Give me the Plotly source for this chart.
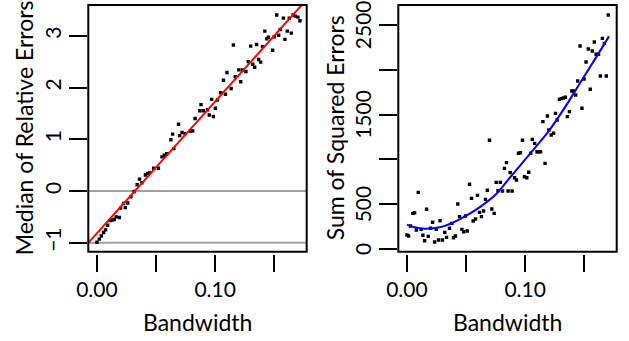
import plotly.graph_objects as go

# ---------------- data ----------------
left_bw = [0.000,0.002,0.0037,0.0056,0.0073,0.009,0.011,0.0127,0.0146,0.0163,0.019,0.020,0.0225,0.024,0.026,0.0287,0.0315,0.034,0.036,0.038,0.041,0.043,0.0445,0.048,0.052,0.055,0.057,0.059,0.0625,0.064,0.065,0.069,0.070,0.072,0.0746,0.079,0.081,0.083,0.087,0.088,0.090,0.0935,0.095,0.097,0.0985,0.1002,0.102,0.1047,0.107,0.1087,0.110,0.1135,0.1154,0.117,0.120,0.1216,0.123,0.126,0.128,0.130,0.1318,0.1334,0.135,0.1368,0.1385,0.140,0.142,0.1436,0.145,0.1486,0.150,0.152,0.1537,0.155,0.1577,0.159,0.161,0.1627,0.1644,0.166,0.1678,0.170,0.1717]
left_median = [-0.99,-0.93,-0.87,-0.80,-0.75,-0.66,-0.57,-0.56,-0.55,-0.50,-0.51,-0.33,-0.24,-0.32,-0.23,-0.11,-0.01,0.12,0.23,0.16,0.31,0.34,0.35,0.44,0.44,0.66,0.69,0.72,0.99,1.10,0.82,1.29,1.07,1.13,1.11,1.16,1.16,1.40,1.55,1.67,1.55,1.57,1.47,1.77,1.44,1.60,1.76,1.90,2.14,1.87,2.29,1.98,2.82,2.21,2.34,2.11,2.34,2.31,2.50,2.80,2.45,2.39,2.83,2.54,2.49,2.79,3.09,2.94,2.97,2.72,2.98,3.40,3.01,3.12,3.34,2.93,3.09,3.34,3.05,3.40,3.38,3.36,3.29]
fit_intercept = -0.815
fit_slope = 25.45
ref_levels = [0, -1]

right_bw = [0.0,0.0014,0.003,0.005,0.0065,0.008,0.0096,0.012,0.0135,0.015,
            0.0166,0.018,0.020,0.0217,0.0234,0.0248,0.0267,0.028,0.030,0.032,
            0.0335,0.036,0.038,0.0394,0.041,0.043,0.0445,0.0465,0.048,0.0495,
            0.051,0.053,0.0546,0.056,0.058,0.0597,0.0614,0.063,0.0648,0.0664,
            0.068,0.0698,0.0718,0.0738,0.0755,0.077,0.079,0.0808,0.0825,0.0842,
            0.0856,0.0873,0.089,0.091,0.0926,0.0943,0.096,0.0977,0.0994,0.1014,
            0.103,0.1047,0.106,0.108,0.110,0.1115,0.113,0.115,0.1168,0.1188,
            0.120,0.122,0.124,0.1256,0.127,0.129,0.1306,0.1323,0.134,0.1357,
            0.1374,0.1394,0.141,0.1427,0.1444,0.1464,0.148,0.1498,0.1515,0.1534,
            0.155,0.1568,0.1585,0.160,0.162,0.1636,0.1653,0.167,0.1686,0.1703]
right_sse = [156,145,257,398,405,212,632,219,153,93,
             443,141,231,298,78,219,100,316,100,186,
             130,231,286,126,145,502,361,219,193,368,
             201,722,565,312,335,599,409,361,424,554,
             655,1213,446,398,744,651,744,647,900,964,
             647,852,647,796,770,1068,1075,1213,807,796,
             856,1068,1224,1179,1086,1086,1086,1421,956,1484,
             1328,1272,1291,1514,1440,1670,1678,1685,1693,1477,
             1533,1763,1763,1719,1875,2266,1570,1897,2087,2232,
             1782,2210,2310,2173,2173,1931,2351,2295,1931,2612]
smooth_bw = [0.0, 0.0065, 0.015, 0.0276, 0.0389, 0.0501, 0.0614, 0.0755, 0.0867, 0.107, 0.121, 0.1351, 0.1464, 0.1605, 0.1709]
smooth_sse = [272, 242, 227, 242, 294, 372, 465, 614, 790, 1109, 1336, 1611, 1853, 2150, 2373]

x_ticks = [0.00, 0.05, 0.10, 0.15]
x_ticktext = ["0.00", "", "0.10", ""]
left_yticks = [-1, 0, 1, 2, 3]
left_yticktext = ["\u22121", "0", "1", "2", "3"]
right_yticks = [0, 500, 1000, 1500, 2000, 2500]
right_yticktext = ["0", "500", "", "1500", "", "2500"]

x_range = [-0.0073, 0.1774]
left_yrange = [-1.172, 3.594]
right_yrange = [-30, 2723]

# ---------------- figure ----------------
W, H = 629, 341
FONT = "Lato"
fs = 21
fs_title = 23

fig = go.Figure()

fig.add_trace(go.Scatter(x=left_bw, y=left_median, mode="markers",
                         marker=dict(symbol="square", size=3.4, color="black", line=dict(width=0)),
                         xaxis="x", yaxis="y", showlegend=False))
line_x = [x_range[0], x_range[1]]
line_y = [fit_intercept + fit_slope * v for v in line_x]
fig.add_trace(go.Scatter(x=line_x, y=line_y, mode="lines",
                         line=dict(color="#FF0000", width=2),
                         xaxis="x", yaxis="y", showlegend=False))

fig.add_trace(go.Scatter(x=right_bw, y=right_sse, mode="markers",
                         marker=dict(symbol="square", size=3.4, color="black", line=dict(width=0)),
                         xaxis="x2", yaxis="y2", showlegend=False))
fig.add_trace(go.Scatter(x=smooth_bw, y=smooth_sse, mode="lines",
                         line=dict(color="#0000FF", width=2, shape="spline", smoothing=1.0),
                         xaxis="x2", yaxis="y2", showlegend=False))

ydom = [1 - 251.7 / H, 1 - 5 / H]
xdom1 = [88.3 / W, 306.7 / W]
xdom2 = [398.3 / W, 616.7 / W]
xpos = 1 - 253.5 / H

tickfont = dict(family=FONT, size=fs, color="black")
common_x = dict(range=x_range, tickvals=x_ticks, ticktext=x_ticktext, ticks="outside",
                ticklen=17, tickwidth=1.6, tickcolor="black", showgrid=False, zeroline=False,
                showline=False, tickfont=tickfont, anchor="free", position=xpos,
                automargin=False, ticklabeloverflow="allow")
common_y = dict(ticks="outside", ticklen=18, tickwidth=1.6, tickcolor="black", showgrid=False,
                zeroline=False, showline=False, tickfont=tickfont, tickangle=-90,
                automargin=False, ticklabeloverflow="allow")

fig.update_layout(
    template="none",
    width=W, height=H, margin=dict(l=0, r=0, t=0, b=0, pad=0),
    paper_bgcolor="white", plot_bgcolor="white",
    font=dict(family=FONT, size=fs, color="black"),
    xaxis=dict(domain=xdom1, **common_x),
    xaxis2=dict(domain=xdom2, **common_x),
    yaxis=dict(domain=ydom, range=left_yrange, tickvals=left_yticks, ticktext=left_yticktext,
               anchor="x", **common_y),
    yaxis2=dict(domain=ydom, range=right_yrange, tickvals=right_yticks, ticktext=right_yticktext,
                anchor="x2", ticklabelshift=3, **common_y),
)

for lv in ref_levels:
    fig.add_shape(type="line", xref="x domain", yref="y", x0=0, x1=1, y0=lv, y1=lv,
                  line=dict(color="#A0A0A0", width=2), layer="below")

for xr, yr in [("x domain", "y domain"), ("x2 domain", "y2 domain")]:
    fig.add_shape(type="rect", xref=xr, yref=yr, x0=0, x1=1, y0=0, y1=1,
                  line=dict(color="black", width=2), fillcolor="rgba(0,0,0,0)", layer="above")

cx1 = (xdom1[0] + xdom1[1]) / 2
cx2 = (xdom2[0] + xdom2[1]) / 2
cy = (ydom[0] + ydom[1]) / 2
for cx in (cx1, cx2):
    fig.add_annotation(text="Bandwidth", x=cx, y=1 - 322 / H, xref="paper", yref="paper",
                       showarrow=False, font=dict(family=FONT, size=fs_title, color="black"),
                       xanchor="center", yanchor="middle")
fig.add_annotation(text="Median of Relative Errors", x=24 / W, y=cy, xref="paper", yref="paper",
                   showarrow=False, textangle=-90, font=dict(family=FONT, size=fs_title, color="black"),
                   xanchor="center", yanchor="middle")
fig.add_annotation(text="Sum of Squared Errors", x=335 / W, y=cy, xref="paper", yref="paper",
                   showarrow=False, textangle=-90, font=dict(family=FONT, size=fs_title, color="black"),
                   xanchor="center", yanchor="middle")

fig.write_html("out.html", config={"displayModeBar": False},
               post_script="document.body.style.margin='0';document.body.style.overflow='hidden';")
